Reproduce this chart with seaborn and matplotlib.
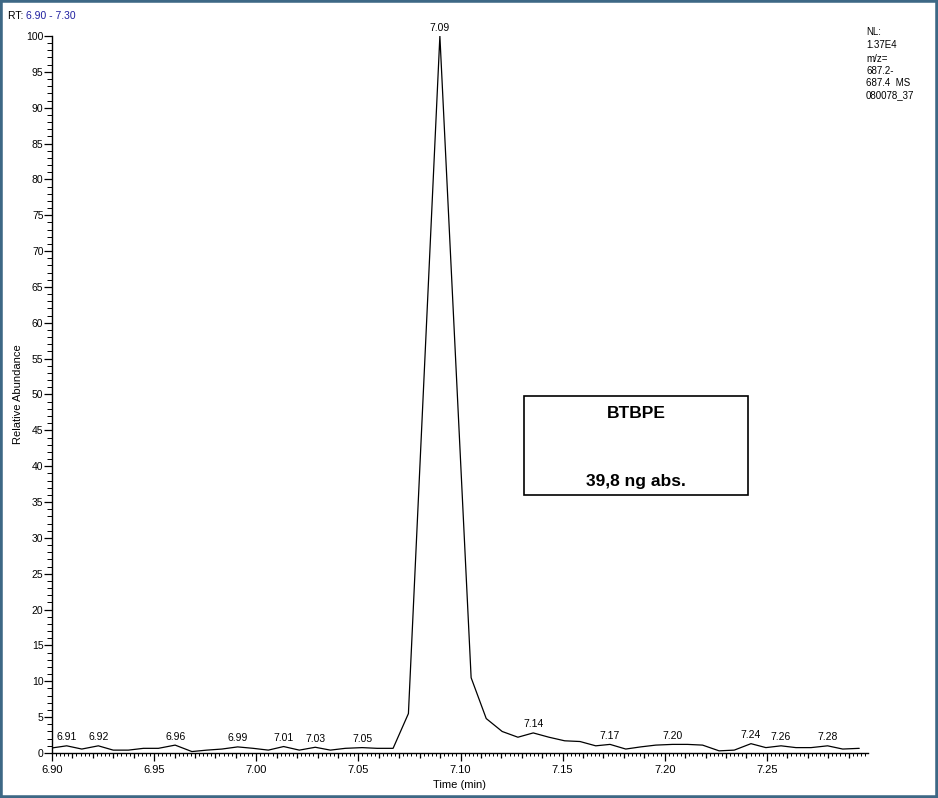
import numpy as np
import pandas as pd
import matplotlib
matplotlib.use("Agg")
import matplotlib.pyplot as plt
import seaborn as sns
from matplotlib.ticker import MultipleLocator, FuncFormatter
from matplotlib.patches import Rectangle

# chromatogram trace
time_min = [6.8999, 6.9072, 6.9146, 6.9227, 6.9300, 6.9374, 6.9448, 6.9521, 6.9603, 6.9685,
            6.9758, 6.9832, 6.9909, 6.9985, 7.0059, 7.0134, 7.0211, 7.0289, 7.0363, 7.0436,
            7.0518, 7.0592, 7.0670, 7.0745, 7.0899, 7.1052, 7.1126, 7.1204, 7.1281, 7.1356,
            7.1433, 7.1510, 7.1585, 7.1662, 7.1732, 7.1809, 7.1882, 7.1956, 7.2038, 7.2111,
            7.2185, 7.2266, 7.2340, 7.2422, 7.2495, 7.2569, 7.2642, 7.2716, 7.2797, 7.2871,
            7.2952]
rel_abundance = [0.7, 1.0, 0.55, 1.0, 0.4, 0.4, 0.65, 0.65, 1.1, 0.2,
                 0.4, 0.55, 0.85, 0.65, 0.4, 0.9, 0.4, 0.8, 0.4, 0.65,
                 0.75, 0.65, 0.65, 5.5, 100.0, 10.5, 4.8, 3.0, 2.2, 2.8,
                 2.2, 1.7, 1.6, 1.0, 1.2, 0.55, 0.85, 1.1, 1.2, 1.2,
                 1.1, 0.3, 0.4, 1.3, 0.75, 1.0, 0.75, 0.75, 1.0, 0.55,
                 0.65]

# points that carry a retention-time label
labelled_times = [6.9072, 6.9227, 6.9603, 6.9909, 7.0134, 7.0289, 7.0518, 7.0899,
                  7.1356, 7.1732, 7.2038, 7.2422, 7.2569, 7.2797]

compound = "BTBPE"
amount = "39,8 ng abs."
nl_text = "NL:\n1.37E4"
scan_text = "m/z=\n687.2-\n687.4  MS\n080078_37"

df = pd.DataFrame({"time": time_min, "abund": rel_abundance})

sns.set_style("white")
plt.rcParams["font.family"] = ["Liberation Sans", "DejaVu Sans"]
plt.rcParams["text.color"] = "black"
plt.rcParams["axes.labelcolor"] = "black"
plt.rcParams["xtick.color"] = "black"
plt.rcParams["ytick.color"] = "black"

fig = plt.figure(figsize=(9.38, 7.98), dpi=100)
ax = fig.add_axes([0.0554, 0.0564, 0.870, 0.8985])

sns.lineplot(data=df, x="time", y="abund", color="black", linewidth=0.9, sort=False, ax=ax)

ax.set_xlim(6.90, 7.2995)
ax.set_ylim(0, 100)
for s in ["top", "right"]:
    ax.spines[s].set_visible(False)
for s in ["left", "bottom"]:
    ax.spines[s].set_color("black")
    ax.spines[s].set_linewidth(1.0)

# x ticks: every 0.01 with labels only on 0.05
ax.xaxis.set_major_locator(MultipleLocator(0.01))
ax.xaxis.set_minor_locator(MultipleLocator(0.002))
ax.xaxis.set_major_formatter(FuncFormatter(
    lambda v, p: f"{v:.2f}" if abs(round(v / 0.05) * 0.05 - v) < 1e-6 and v < 7.29 else ""))
ax.yaxis.set_major_locator(MultipleLocator(5))
ax.yaxis.set_minor_locator(MultipleLocator(1))
ax.tick_params(axis="x", which="major", direction="out", length=3.6, width=0.9,
               labelsize=8, pad=5, bottom=True)
ax.tick_params(axis="x", which="minor", direction="out", length=2.2, width=0.7,
               bottom=True)
ax.tick_params(axis="y", which="major", direction="out", length=5.8, width=0.9,
               labelsize=7.5, pad=0.3, left=True)
ax.tick_params(axis="y", which="minor", direction="out", length=3.6, width=0.7,
               left=True)
fig.canvas.draw()
for t in ax.xaxis.get_major_ticks():
    if t.label1.get_text():
        t.tick1line.set_markersize(5.8)

ax.set_xlabel("Time (min)", fontsize=8, labelpad=4)
ax.set_ylabel("Relative Abundance", fontsize=8, labelpad=2)

for lt in labelled_times:
    i = int(np.argmin(np.abs(np.array(time_min) - lt)))
    ax.annotate(f"{time_min[i]:.2f}", (time_min[i], rel_abundance[i]),
                xytext=(0, 2.5), textcoords="offset points",
                ha="center", va="bottom", fontsize=7.5)

# compound box
ax.add_patch(Rectangle((0.578, 0.360), 0.275, 0.138, transform=ax.transAxes,
                       fill=False, edgecolor="black", linewidth=1.2))
ax.text(0.716, 0.474, compound, transform=ax.transAxes, ha="center", va="center",
        fontsize=12.5, fontweight="bold")
ax.text(0.716, 0.379, amount, transform=ax.transAxes, ha="center", va="center",
        fontsize=12.5, fontweight="bold")

# header texts
fig.text(8 / 938, 1 - 16 / 798, "RT: ", fontsize=7.5, va="center", ha="left")
fig.text(26 / 938, 1 - 16 / 798, "6.90 - 7.30", fontsize=7.5, va="center", ha="left",
         color="#1f1fa0")
fig.text(866 / 938, 1 - 27 / 798, nl_text, fontsize=7, va="top", ha="left", linespacing=1.35)
fig.text(866 / 938, 1 - 54 / 798, scan_text, fontsize=7, va="top", ha="left", linespacing=1.25)

fig.patches.append(Rectangle((0, 0), 1, 1, transform=fig.transFigure, fill=False,
                             edgecolor="#3d6885", linewidth=4, zorder=10))

fig.savefig("out.png", dpi=100)
